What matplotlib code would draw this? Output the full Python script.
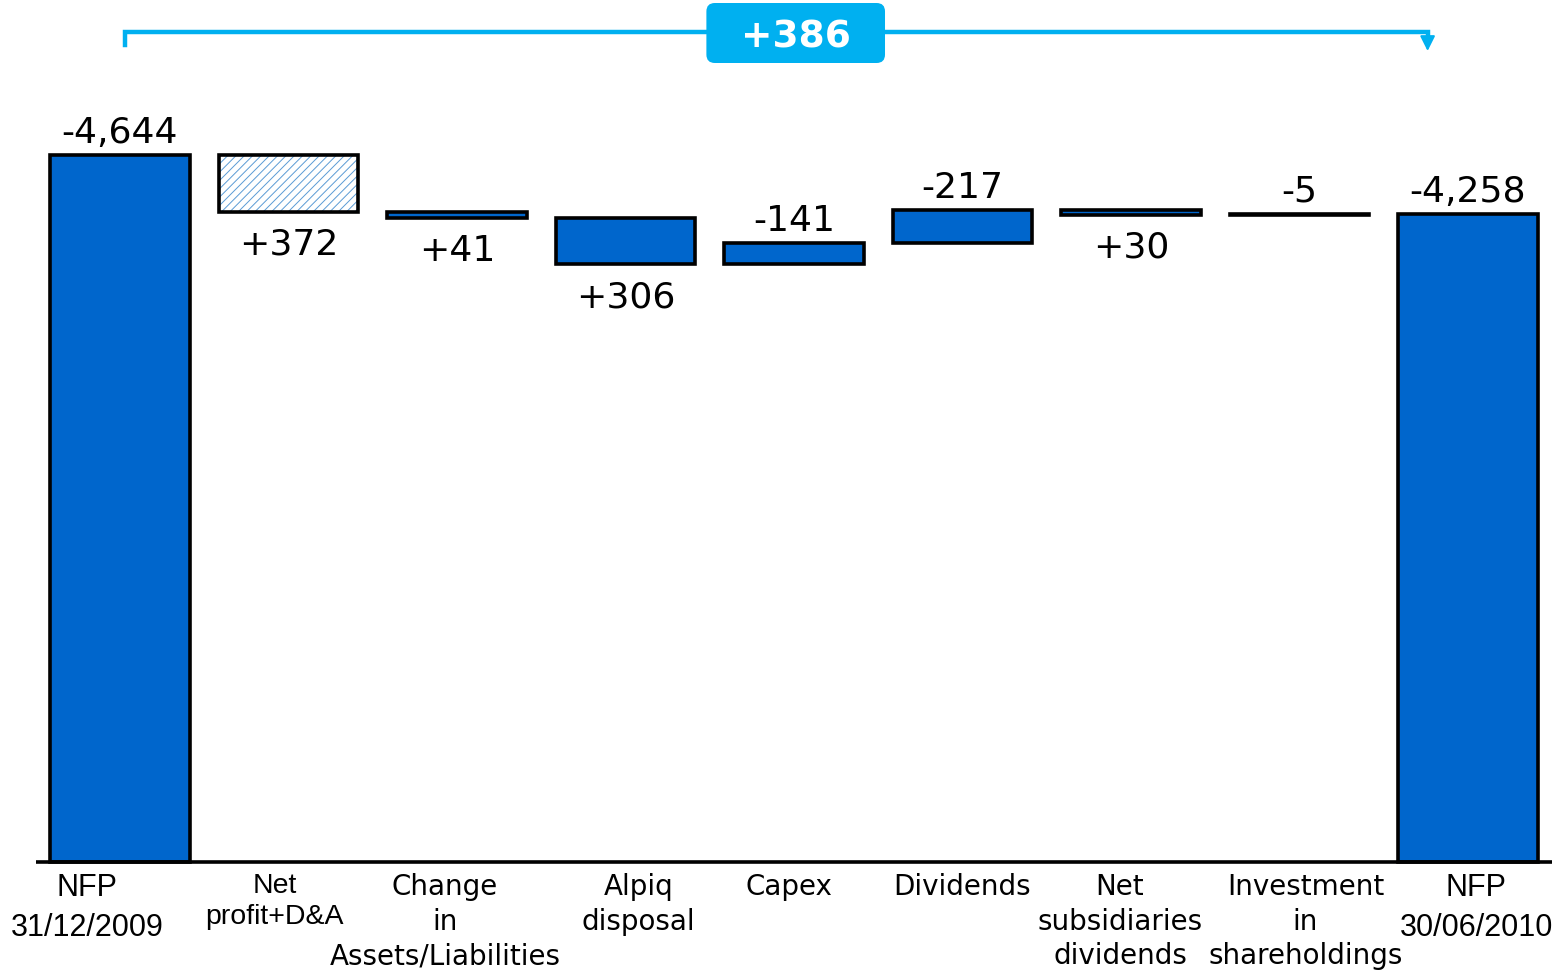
import numpy as np
import matplotlib
matplotlib.use("Agg")
import matplotlib.pyplot as plt
from matplotlib.patches import FancyBboxPatch
from matplotlib.transforms import blended_transform_factory

# data (EUR m, net financial position shown as magnitude)
categories = ["NFP\n31/12/2009", "Net\nprofit+D&A", "Change\nin\nAssets/Liabilities",
              "Alpiq\ndisposal", "Capex", "Dividends", "Net\nsubsidiaries\ndividends",
              "Investment\nin\nshareholdings", "NFP\n30/06/2010"]
nfp_start = 4644
nfp_end = 4258
changes = [372, 41, 306, -141, -217, 30, -5]   # + reduces debt, - increases it
value_labels = ["-4,644", "+372", "+41", "+306", "-141", "-217", "+30", "-5", "-4,258"]

BLUE = "#0066CC"
CYAN = "#00B0F0"

fig = plt.figure(figsize=(15.55, 9.76), dpi=100)
ax = fig.add_axes([0, 0, 1, 1])
ax.set_xlim(-0.712, 8.516)
ax.set_ylim(-749, 5662)
ax.axis("off")

x = np.arange(len(categories))
w = 0.83

# build floating bars
bottoms, heights = [0], [nfp_start]
level = nfp_start
for c in changes:
    new = level - c
    bottoms.append(min(level, new))
    heights.append(abs(c))
    level = new
bottoms.append(0)
heights.append(nfp_end)
bottoms = np.array(bottoms)
heights = np.array(heights)

plt.rcParams["hatch.linewidth"] = 0.7
for i in range(len(x)):
    if i == 1:
        ax.bar(x[i], heights[i], w, bottom=bottoms[i], color="white",
               hatch="////", edgecolor="#5B9BD5", lw=0, zorder=2)
        ax.bar(x[i], heights[i], w, bottom=bottoms[i], fill=False,
               edgecolor="black", lw=2.6, zorder=3)
    else:
        ax.bar(x[i], heights[i], w, bottom=bottoms[i], color=BLUE,
               edgecolor="black", lw=2.6, zorder=3)

ax.plot([-0.5, 8.5], [0, 0], color="black", lw=2.6, zorder=4, solid_capstyle="butt")

# value labels: above for debt increase / totals, below for reductions
for i, lab in enumerate(value_labels):
    top = bottoms[i] + heights[i]
    if lab.startswith("-"):
        ax.annotate(lab, (x[i], top), xytext=(0, 8.6), textcoords="offset points",
                    ha="center", va="baseline", fontsize=26, color="black")
    else:
        ax.annotate(lab, (x[i], bottoms[i]), xytext=(0, -11.5), textcoords="offset points",
                    ha="center", va="top", fontsize=26, color="black")

# category labels
label_dx = [-33, -14, -12, 13, -5, 0, -11, 6, 8]   # px
for i, cat in enumerate(categories):
    if cat.startswith("NFP"):
        fam, fs, ls = "Liberation Sans", 22, 1.45
    elif cat.startswith("Net\nprofit"):
        fam, fs, ls = "Liberation Sans", 20.5, 1.25
    else:
        fam, fs, ls = "DejaVu Sans", 20, 1.3
    ax.annotate(cat, (x[i], 0), xytext=(label_dx[i] * 0.72, -8),
                textcoords="offset points", ha="center", va="top",
                fontsize=fs, family=fam, linespacing=ls, color="black")

# bracket with total change
tr = blended_transform_factory(ax.transData, fig.transFigure)
y_line = 1 - 32 / 976
x0, x1 = x[0] + 0.03, x[-1] - 0.24
ax.plot([x0, x0, x1, x1], [1 - 45 / 976, y_line, y_line, 1 - 38 / 976], color=CYAN,
        lw=3.2, transform=tr, clip_on=False, zorder=5, solid_joinstyle="miter")
ax.annotate("", xy=(x1, 1 - 51 / 976), xytext=(x1, 1 - 37 / 976),
            xycoords=tr, textcoords=tr,
            arrowprops=dict(arrowstyle="-|>,head_length=0.9,head_width=0.45",
                            color=CYAN, lw=1.5, shrinkA=0, shrinkB=0))

total = (nfp_start - nfp_end)
xc = (x[0] + x[-1]) / 2
y_box = 1 - 33 / 976
bw, bh = 1.06, 60 / 976
box = FancyBboxPatch((xc - bw / 2 + 0.01, y_box - bh / 2), bw, bh,
                     boxstyle="round,pad=0,rounding_size=0.05",
                     mutation_aspect=168.5 / 976,
                     transform=tr, fc=CYAN, ec="none", clip_on=False, zorder=6)
ax.add_patch(box)
ax.text(xc + 0.01, y_box, f"+{total}", transform=tr, ha="center", va="center_baseline",
        fontsize=27, fontweight="bold", color="white", zorder=7)

fig.savefig("out.png", dpi=100)
